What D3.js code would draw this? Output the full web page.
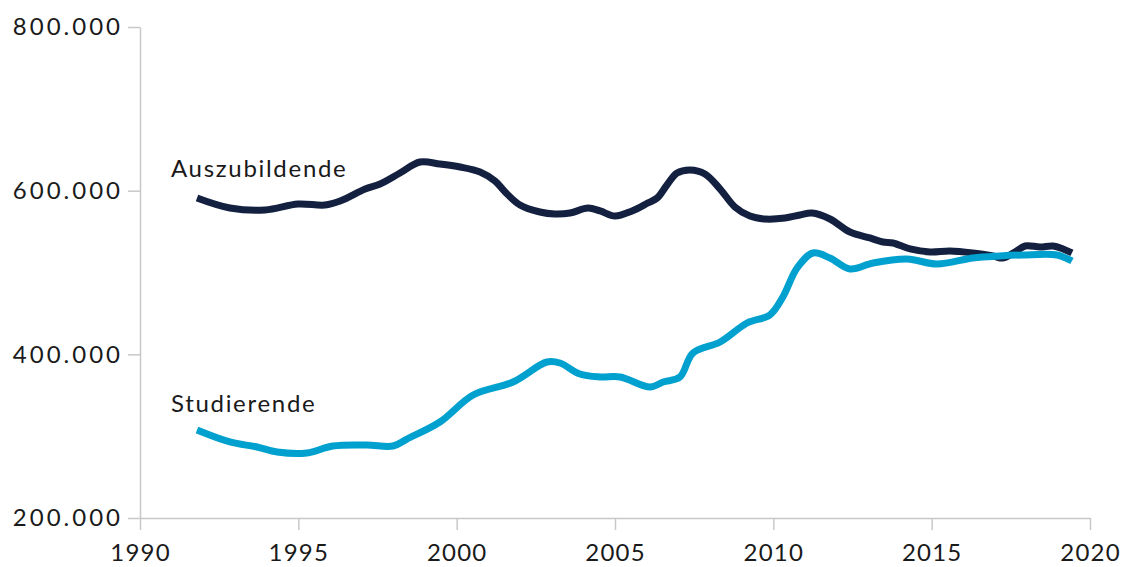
<!DOCTYPE html>
<html><head><meta charset="utf-8">
<script src="https://cdn.jsdelivr.net/npm/d3@7"></script>
<style>
body{margin:0;background:#fff;}
svg text{font-family:Lato,"Open Sans",sans-serif;fill:#1a1a1a;}
</style></head><body>
<svg id="c" width="1130" height="567"></svg>
<script>
const xTicks = [1990, 1995, 2000, 2005, 2010, 2015, 2020];
const yTicks = [200000, 400000, 600000, 800000];
const seriesNames = ["Auszubildende", "Studierende"];

const azubiYears = [1991.8,1992.84,1993.95,1994.99,1995.84,1996.32,1997.11,1997.58,1998.21,1998.84,1999.47,2000.11,2000.74,2001.21,2001.53,2002.0,2002.63,2003.1,2003.58,2004.15,2004.53,2005.0,2005.54,2006.04,2006.33,2006.64,2006.96,2007.37,2007.84,2008.32,2008.79,2009.26,2009.74,2010.37,2010.84,2011.22,2011.79,2012.42,2013.05,2013.46,2013.78,2014.32,2014.95,2015.58,2016.3,2016.94,2017.25,2017.63,2017.95,2018.42,2018.83,2019.15,2019.43];
const azubiValues = [591000,578800,576400,583700,582500,587400,602000,608100,621600,635000,632600,628900,622800,611800,598400,582500,573900,571500,572700,578800,575200,569000,575200,585000,591000,606900,621600,625300,620400,602000,580000,569000,565400,566600,570300,572700,565400,549500,542200,537300,536100,528800,525100,526300,523900,520200,517700,525100,532400,531200,532400,528800,523900];

const studYears = [1991.8,1992.84,1993.69,1994.33,1995.27,1996.09,1997.17,1997.99,1998.43,1999.47,2000.52,2001.78,2002.85,2003.26,2003.89,2004.53,2005.16,2006.11,2006.52,2007.05,2007.46,2008.32,2009.17,2009.89,2010.3,2010.75,2011.25,2011.79,2012.42,2013.15,2014.22,2015.17,2016.3,2017.16,2017.88,2018.96,2019.3,2019.43];
const studValues = [307500,292900,286800,280600,279400,288000,289200,288000,296500,317300,350300,366200,390600,389400,375900,372300,372300,360100,366200,372300,401600,415100,438300,448100,470100,505500,523800,517700,504300,511600,516500,510400,517700,520200,521400,521400,516500,514000];

const colors = ["#13203f", "#00a0cf"];

const svg = d3.select("#c");
const x = d3.scaleLinear().domain([1990, 2020]).range([140, 1090]);
const y = d3.scaleLinear().domain([200000, 800000]).range([518, 27]);
const fmt = d3.formatLocale({decimal: ",", thousands: ".", grouping: [3], currency: ["", "€"]}).format(",.0f");

const gx = svg.append("g").attr("transform", "translate(0,518)")
  .call(d3.axisBottom(x).tickValues(xTicks).tickFormat(d3.format("d")).tickSize(12).tickSizeOuter(0).tickPadding(14));
const gy = svg.append("g").attr("transform", "translate(140,0)")
  .call(d3.axisLeft(y).tickValues(yTicks).tickFormat(fmt).tickSize(12).tickSizeOuter(0).tickPadding(5));
[gx, gy].forEach(g => {
  g.selectAll("path.domain").attr("stroke", "#c8c8c8").attr("stroke-width", 1.5);
  g.selectAll(".tick line").attr("stroke", "#c8c8c8").attr("stroke-width", 1.5);
  g.selectAll(".tick text").attr("font-size", 24).attr("fill", "#1a1a1a")
    .attr("font-family", "Lato, 'Open Sans', sans-serif");
});
gx.selectAll(".tick text").attr("letter-spacing", 1.2);
gy.selectAll(".tick text").attr("letter-spacing", 3);

const line = d3.line().x(d => x(d[0])).y(d => y(d[1])).curve(d3.curveCatmullRom.alpha(0.5));
const data = [
  d3.zip(azubiYears, azubiValues),
  d3.zip(studYears, studValues)
];
svg.selectAll("path.series").data(data).join("path")
  .attr("class", "series")
  .attr("d", line)
  .attr("fill", "none")
  .attr("stroke", (d, i) => colors[i])
  .attr("stroke-width", 7)
  .attr("stroke-linejoin", "round");

svg.selectAll("text.lbl").data(seriesNames).join("text")
  .attr("class", "lbl")
  .attr("x", x(1991) - 0.7)
  .attr("y", (d, i) => [177, 412][i])
  .attr("font-size", 24)
  .attr("letter-spacing", 1.7)
  .text(d => d);
</script>
</body></html>
